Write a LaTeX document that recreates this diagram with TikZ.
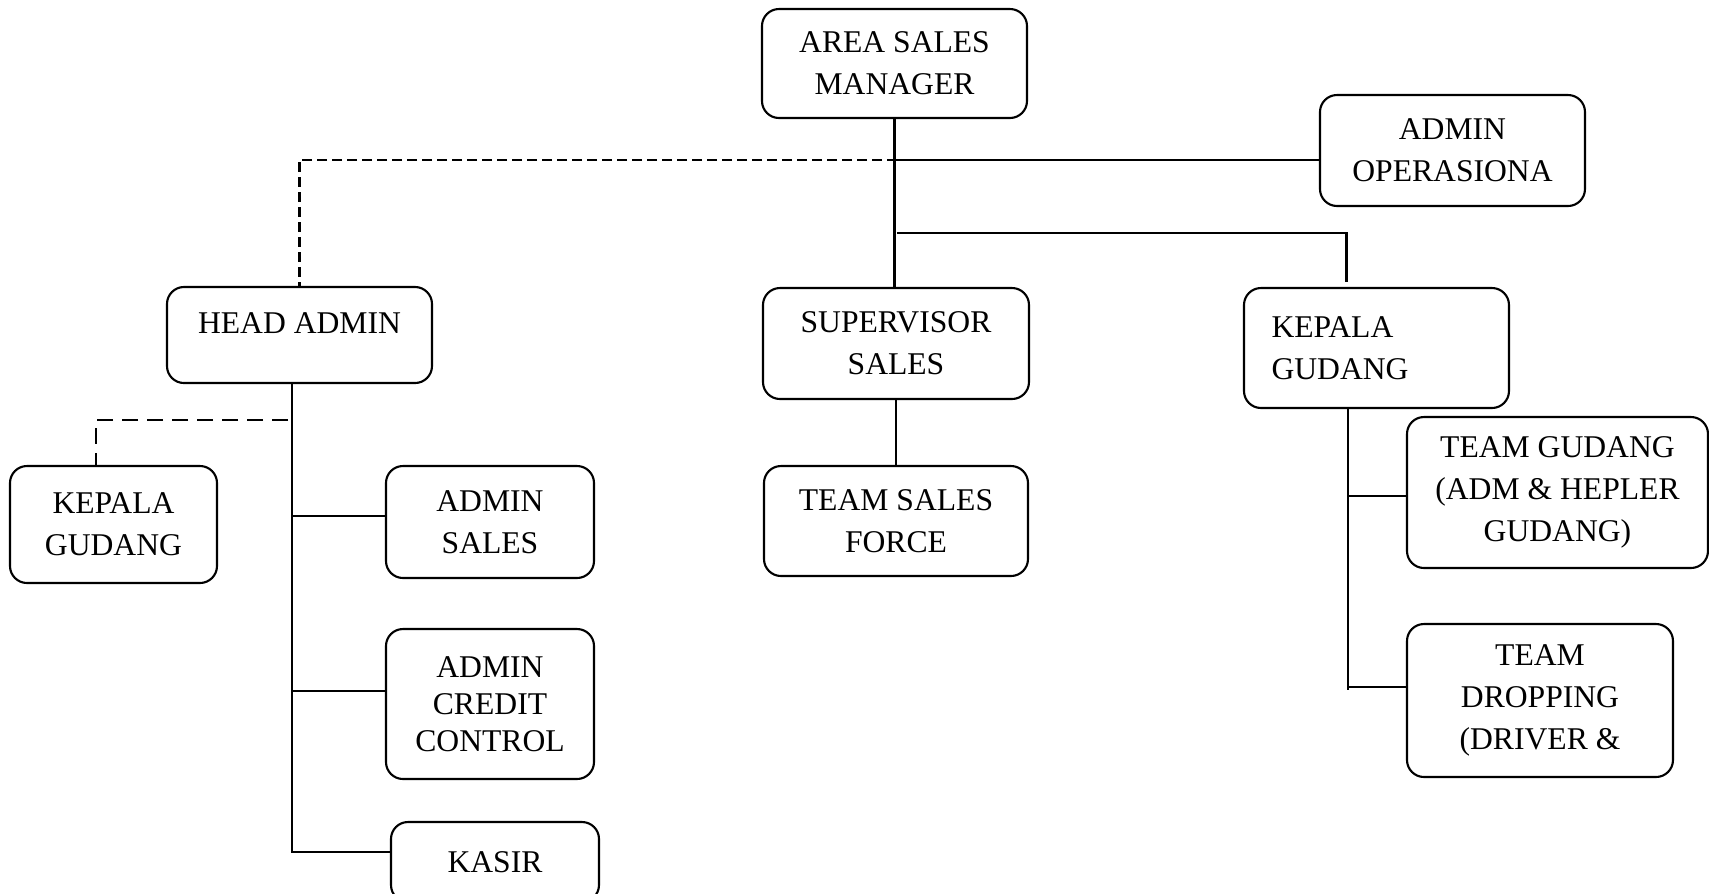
\documentclass[tikz,border=0pt]{standalone}
\usepackage{fontspec}
\setmainfont{Liberation Serif}
\tikzset{
	box/.style={draw, rounded corners=1.7mm, line width=.6pt, align=center, inner sep=1pt, font=\fontsize{9}{12}\selectfont},
	link/.style={line width=.6pt},
	shortdash/.style={line width=.6pt, dash pattern=on 1mm off .5mm},
	longdash/.style={line width=.6pt, dash pattern=on 1.6mm off .9mm}
}
\begin{document}
\begin{tikzpicture}[x=.1mm,y=-.1mm]
\useasboundingbox (0,0) rectangle (1709,893);
\node[box, minimum width=26.5mm, minimum height=10.9mm] (asm) at (894.5,63.5) {AREA SALES\\MANAGER};
\node[box, minimum width=26.5mm, minimum height=11.1mm] (aop) at (1452.5,150.5) {ADMIN\\OPERASIONA};
\node[box, minimum width=26.5mm, text height=4.3mm, text depth=4.6mm] (ha) at (299.5,335) {HEAD ADMIN};
\node[box, minimum width=26.6mm, minimum height=11.1mm] (ss) at (896,343.5) {SUPERVISOR\\SALES};
\node[box, align=left, text width=21mm, inner xsep=2.75mm, minimum height=12mm] (kgr) at (1376.5,348) {KEPALA\\GUDANG};
\node[box, minimum width=20.7mm, minimum height=11.7mm] (kgl) at (113.5,524.5) {KEPALA\\GUDANG};
\node[box, minimum width=20.8mm, minimum height=11.2mm] (as) at (490,522) {ADMIN\\SALES};
\node[box, minimum width=20.8mm, minimum height=15mm, font=\fontsize{9}{10.5}\selectfont] (acc) at (490,704) {ADMIN\\CREDIT\\CONTROL};
\node[box, minimum width=20.8mm, minimum height=8mm] (kas) at (495,862) {KASIR};
\node[box, minimum width=26.4mm, minimum height=11mm] (tsf) at (896,521) {TEAM SALES\\FORCE};
\node[box, minimum width=30.1mm, minimum height=15.1mm] (tg) at (1557.5,492.5) {TEAM GUDANG\\(ADM \& HEPLER\\GUDANG)};
\node[box, minimum width=26.6mm, minimum height=15.3mm] (td) at (1540,700.5) {TEAM\\DROPPING\\(DRIVER \&};

\coordinate (j1) at (897,160);
\coordinate (j2) at (897,233);
\draw[link] (asm.south) -- (asm.south |- ss.north);
\draw[link] (j1) -- (j1 -| aop.west);
\draw[shortdash] (j1) -| (ha.north);
\draw[link] (j2) -| ([xshift=-3mm,yshift=.5mm]kgr.north);
\draw[link] (ss.south) -- (tsf.north);

\draw[link] (ha.south) ++(-.75mm,0) coordinate (h0) -- ([yshift=1mm]h0 |- kas.west) -- ([yshift=1mm]kas.west);
\draw[link] ([yshift=.6mm]h0 |- as.west) -- ([yshift=.6mm]as.west);
\draw[link] ([yshift=1.3mm]h0 |- acc.west) -- ([yshift=1.3mm]acc.west);
\draw[longdash] ([xshift=-.4mm]h0 |- 0,420) -| ([xshift=-1.75mm]kgl.north);

\draw[link] (kgr.south) ++(-2.85mm,0) coordinate (k0) -- ([yshift=1.05mm]k0 |- td.west);
\draw[link] ([yshift=-.35mm]k0 |- tg.west) -- ([yshift=-.35mm]tg.west);
\draw[link] ([yshift=1.35mm]k0 |- td.west) -- ([yshift=1.35mm]td.west);
\end{tikzpicture}
\end{document}
